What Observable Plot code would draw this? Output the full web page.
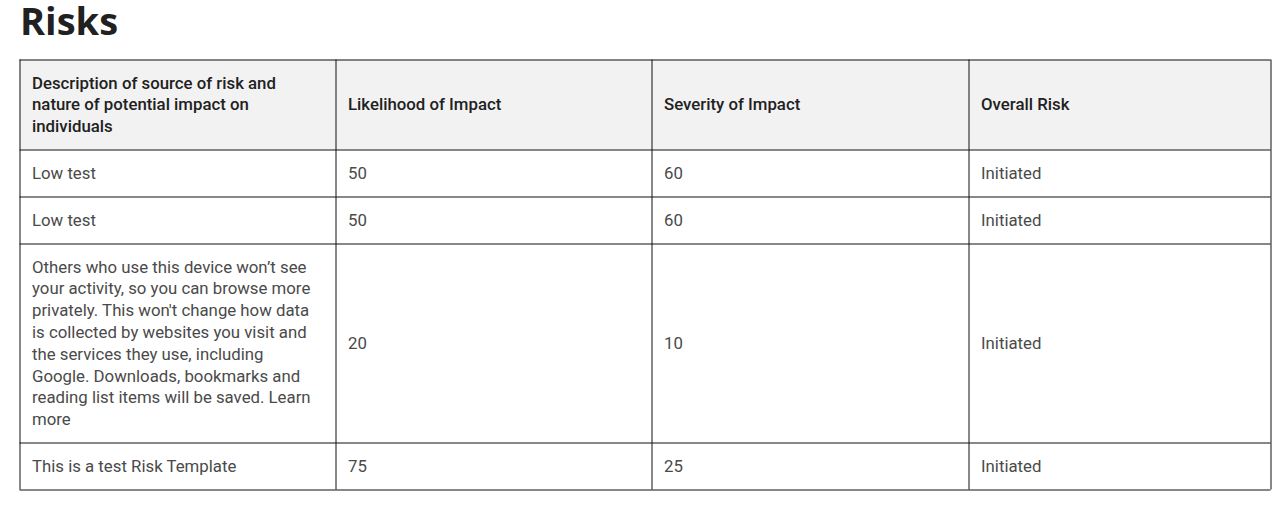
<!DOCTYPE html>
<html>
<head>
<meta charset="utf-8">
<script src="https://cdn.jsdelivr.net/npm/d3@7"></script>
<script src="https://cdn.jsdelivr.net/npm/@observablehq/plot@0.6"></script>
<style>
  html, body { margin: 0; padding: 0; background: #fff; }
  h1 {
    margin: 0; padding: 0 0 0 20px; height: 46px;
    font-family: "Open Sans", sans-serif; font-weight: 700;
    font-size: 38px; line-height: 41px; color: #212121;
  }
  #chart svg { display: block; }
</style>
</head>
<body>
<h1>Risks</h1>
<div id="chart"></div>
<script>
// ---- data ----
const headers = [
  "Description of source of risk and\nnature of potential impact on\nindividuals",
  "Likelihood of Impact",
  "Severity of Impact",
  "Overall Risk"
];
const descriptions = [
  "Low test",
  "Low test",
  "Others who use this device won’t see\nyour activity, so you can browse more\nprivately. This won't change how data\nis collected by websites you visit and\nthe services they use, including\nGoogle. Downloads, bookmarks and\nreading list items will be saved. Learn\nmore",
  "This is a test Risk Template"
];
const likelihood = [50, 50, 20, 75];
const severity = [60, 60, 10, 25];
const overallRisk = ["Initiated", "Initiated", "Initiated", "Initiated"];

// ---- layout ----
const W = 1278, H = 465;
const tableLeft = 19, tableTop = 13;
const colWidths = [316, 316, 317, 302];
const lineH = 21.8, pad = 25, textPad = 12.5, fs = 16.8;

const colX = [tableLeft];
colWidths.forEach(w => colX.push(colX[colX.length - 1] + w));

const rowsText = [headers, ...descriptions.map((d, i) => [d, String(likelihood[i]), String(severity[i]), overallRisk[i]])];
const nLines = rowsText.map(r => d3.max(r, t => t.split("\n").length));
const rowY = [tableTop];
nLines.forEach(n => rowY.push(rowY[rowY.length - 1] + n * lineH + pad));
const rowYs = rowY.map(v => Math.round(v) + 0.5);
const colXs = colX.map(v => Math.round(v) + 0.5);

const cells = [];
rowsText.forEach((r, ri) => r.forEach((t, ci) => cells.push({
  text: t, header: ri === 0,
  x: colX[ci] + textPad,
  y: (rowYs[ri] + rowYs[ri + 1]) / 2
})));

const chart = Plot.plot({
  width: W, height: H,
  margin: 0,
  x: {type: "identity", axis: null},
  y: {type: "identity", axis: null},
  style: {background: "#fff", overflow: "visible"},
  marks: [
    Plot.rect([0], {x1: colXs[0], x2: colXs[colXs.length - 1], y1: rowYs[0], y2: rowYs[1], fill: "#f2f2f2"}),
    Plot.ruleY(rowYs, {x1: colXs[0], x2: colXs[colXs.length - 1], y: d => d, stroke: "#111", strokeWidth: 1}),
    Plot.ruleX(colXs, {y1: rowYs[0], y2: rowYs[rowYs.length - 1], x: d => d, stroke: "#111", strokeWidth: 1}),
    Plot.text(cells.filter(d => d.header), {
      x: "x", y: "y", text: "text", textAnchor: "start", lineAnchor: "middle", dy: -1.5,
      lineHeight: lineH / fs, fontSize: fs, fontWeight: 500, fontFamily: "Roboto",
      fill: "#212121"
    }),
    Plot.text(cells.filter(d => !d.header), {
      x: "x", y: "y", text: "text", textAnchor: "start", lineAnchor: "middle", dy: -1.5,
      lineHeight: lineH / fs, fontSize: fs, fontWeight: 400, fontFamily: "Roboto",
      fill: "#4a4a4a"
    })
  ]
});
document.getElementById("chart").appendChild(chart);
</script>
</body>
</html>
